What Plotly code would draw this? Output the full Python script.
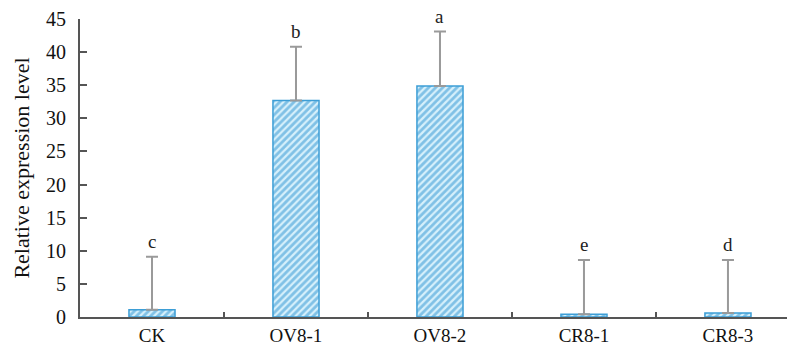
import plotly.graph_objects as go

categories = ["CK", "OV8-1", "OV8-2", "CR8-1", "CR8-3"]
values = [1.1, 32.7, 34.9, 0.4, 0.6]
err_plus = [8.0, 8.1, 8.2, 8.2, 8.0]
letters = ["c", "b", "a", "e", "d"]
y_ticks = [0, 5, 10, 15, 20, 25, 30, 35, 40, 45]

font_family = "Liberation Serif, Times New Roman, serif"

fig = go.Figure()
fig.add_trace(go.Bar(
    x=categories, y=values, width=0.32,
    marker=dict(
        color="#d6f0fb",
        line=dict(color="#3d9ed6", width=1.5),
        pattern=dict(shape="/", fgcolor="#2a92d2", bgcolor="#d6f0fb", size=5, solidity=0.55),
    ),
    error_y=dict(type="data", symmetric=False, array=err_plus, arrayminus=[0]*5,
                 color="#9a9a9a", thickness=2, width=6),
    showlegend=False,
))

for c, v, e, l in zip(categories, values, err_plus, letters):
    fig.add_annotation(x=c, y=v + e, text=l, showarrow=False, yanchor="bottom", yshift=3,
                       font=dict(family=font_family, size=19, color="#222"))

fig.update_layout(
    width=788, height=345,
    margin=dict(l=80, r=1, t=19, b=28),
    plot_bgcolor="white", paper_bgcolor="white",
    font=dict(family=font_family, size=20, color="#111"),
)
fig.update_xaxes(
    range=[-0.5, 4.41], showline=True, linecolor="#555", linewidth=2,
    ticks="inside", tickson="boundaries", ticklen=5, tickcolor="#555", tickwidth=2,
    showgrid=False, tickfont=dict(size=19), ticklabelstandoff=0, automargin=False,
)
fig.update_yaxes(
    range=[0, 45], tickvals=y_ticks, showline=True, linecolor="#555", linewidth=2,
    ticks="inside", ticklen=7, tickcolor="#555", tickwidth=2, showgrid=False, zeroline=False,
    title=dict(text="Relative expression level", font=dict(size=22), standoff=10),
    tickfont=dict(size=20), ticklabelstandoff=8, automargin=False,
)

fig.write_html("out.html")
